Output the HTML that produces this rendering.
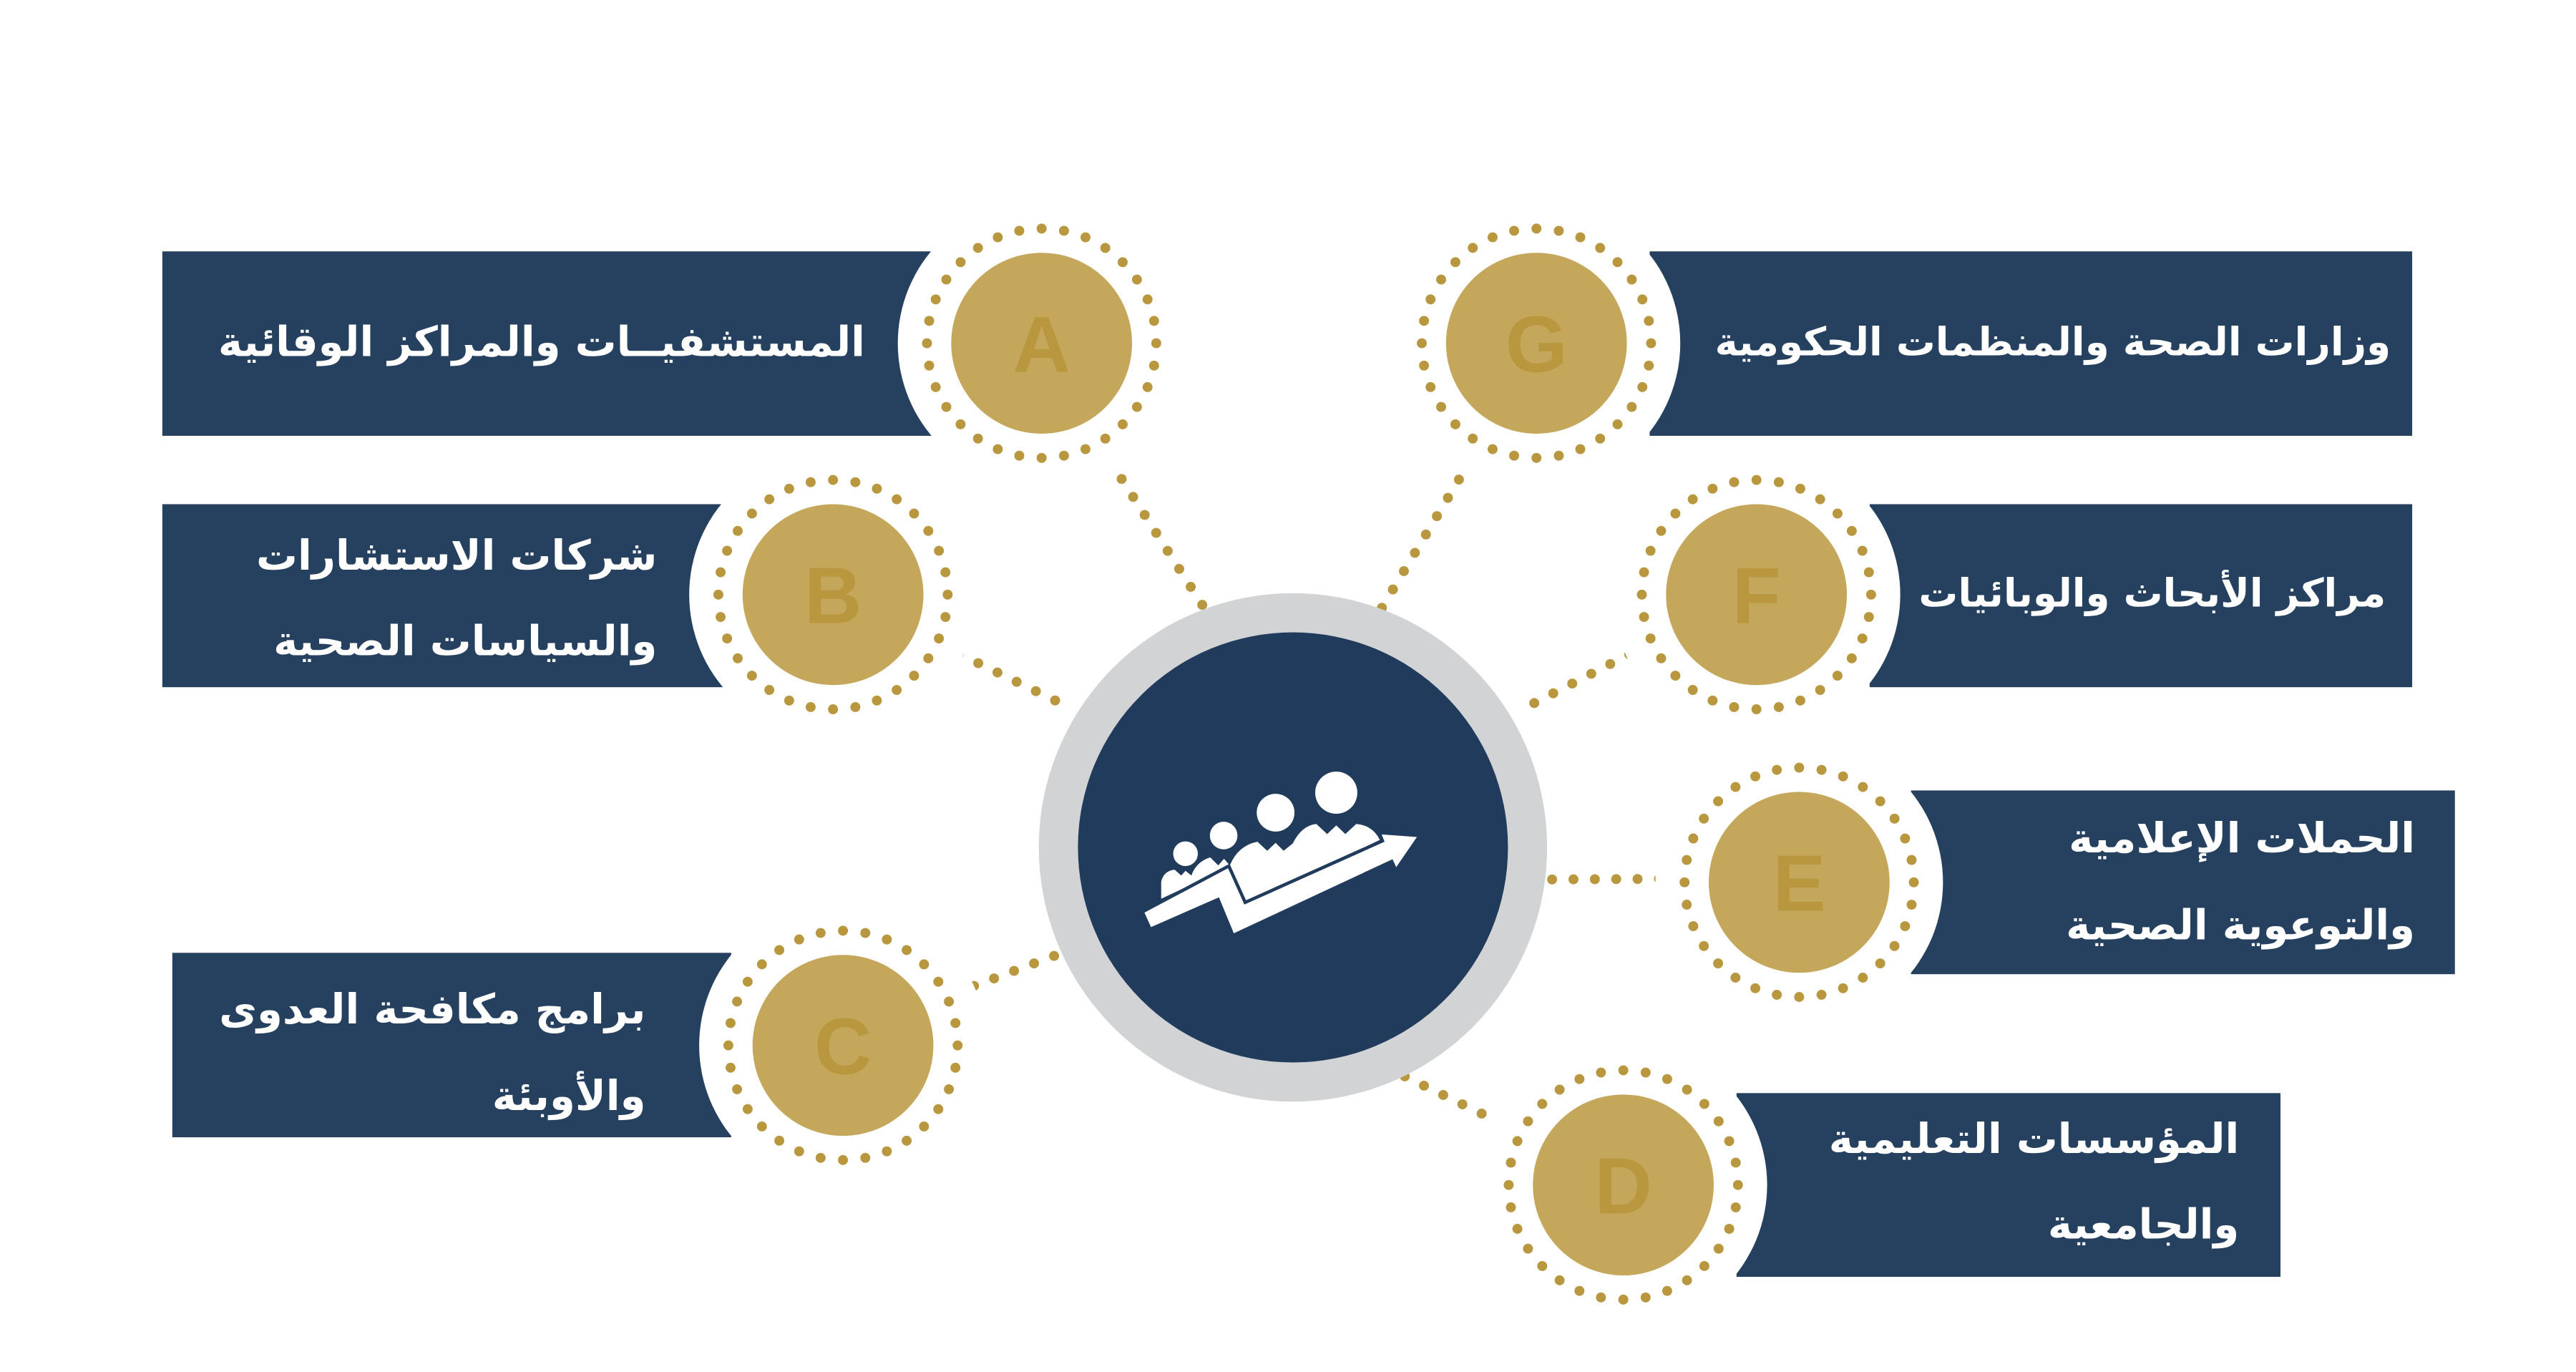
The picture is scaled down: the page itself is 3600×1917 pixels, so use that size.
<!DOCTYPE html>
<html><head><meta charset="utf-8"><style>
html,body{margin:0;padding:0;background:#fff;overflow:hidden}
#o{width:3600px;height:1917px;overflow:hidden;position:relative;background:#fff}
#w{position:absolute;left:0;top:0;width:3600px;height:1917px;transform:scale(0.995);transform-origin:0 0;background:#fff}
svg{position:absolute;left:0;top:0}
.t{position:absolute;color:#fff;font-family:"DejaVu Sans","Liberation Sans",sans-serif;font-weight:bold;font-size:58px;direction:rtl;text-align:right;white-space:nowrap;line-height:1}
.r{font-size:55px}
</style></head><body><div id="o"><div id="w">
<svg width="3600" height="1917" viewBox="0 0 3600 1917">
<g stroke="#b8973f" stroke-width="14" stroke-linecap="round" stroke-dasharray="0 30">
<line x1="1543" y1="622" x2="1705" y2="875"/>
<line x1="1320" y1="905" x2="1495" y2="990"/>
<line x1="1340" y1="1395" x2="1500" y2="1335"/>
<line x1="2080" y1="622" x2="1940" y2="855"/>
<line x1="2315" y1="905" x2="2140" y2="995"/>
<line x1="2360" y1="1234" x2="2175" y2="1235"/>
<line x1="2135" y1="1590" x2="1970" y2="1510"/>
</g>
<g fill="#26405f">
<rect x="228" y="353" width="1080" height="259"/>
<rect x="228" y="708" width="787" height="257"/>
<rect x="242" y="1338" width="785" height="259"/>
<rect x="2317" y="353" width="1071" height="259"/>
<rect x="2626" y="708" width="762" height="257"/>
<rect x="2684" y="1110" width="764" height="258"/>
<rect x="2439" y="1535" width="764" height="258"/>
</g>
<g fill="#fff">
<circle cx="1463" cy="482" r="202"/><circle cx="1170" cy="835" r="202"/><circle cx="1184" cy="1468" r="202"/>
<circle cx="2158" cy="482" r="202"/><circle cx="2467" cy="835" r="202"/><circle cx="2527" cy="1239" r="202"/><circle cx="2280" cy="1664" r="202"/>
</g>
<g fill="none" stroke="#b8973f" stroke-width="14" stroke-linecap="round" stroke-dasharray="0 31.6">
<circle cx="1463" cy="482" r="161"/><circle cx="1170" cy="835" r="161"/><circle cx="1184" cy="1468" r="161"/>
<circle cx="2158" cy="482" r="161"/><circle cx="2467" cy="835" r="161"/><circle cx="2527" cy="1239" r="161"/><circle cx="2280" cy="1664" r="161"/>
</g>
<g fill="#c4a75b">
<circle cx="1463" cy="482" r="127"/><circle cx="1170" cy="835" r="127"/><circle cx="1184" cy="1468" r="127"/>
<circle cx="2158" cy="482" r="127"/><circle cx="2467" cy="835" r="127"/><circle cx="2527" cy="1239" r="127"/><circle cx="2280" cy="1664" r="127"/>
</g>
<g fill="#b8973f" font-family="Liberation Sans, sans-serif" font-weight="bold" font-size="112" text-anchor="middle">
<text x="1463" y="522">A</text><text x="1170" y="875">B</text><text x="1184" y="1508">C</text>
<text x="2158" y="522">G</text><text x="2467" y="875">F</text><text x="2527" y="1279">E</text><text x="2280" y="1704">D</text>
</g>
<g transform="translate(10,7)">
<circle cx="1806" cy="1183" r="357" fill="#d1d3d4"/>
<circle cx="1806" cy="1183" r="302" fill="#213b5c"/>
<g transform="translate(1400,800) scale(0.5102)" fill="#fff">
<circle cx="500" cy="768" r="34"/><circle cx="605" cy="718" r="38"/><circle cx="748" cy="655" r="52"/><circle cx="915" cy="600" r="58"/>
<path d="M433,892 L433,845 Q440,815 470,812 L488,828 L500,815 L516,828 Q530,790 568,778 L590,800 L606,782 L622,800 Q645,745 698,735 L725,760 L748,738 L770,760 L795,740 Q820,690 860,686 L890,714 L915,690 L940,714 L970,686 Q1015,690 1035,730 L663,908 L620,805 Z"/>
<polygon points="387,930 617,808 662,908 1048,735 1040,715 1137,722 1080,805 1070,783 633,987 592,888 405,970" stroke="#213b5c" stroke-width="18" paint-order="stroke"/>
</g>
</g>
</svg>
<div class="t" style="right:2385px;top:451px">المستشفيــات والمراكز الوقائية</div>
<div class="t" style="right:2677px;top:751px">شركات الاستشارات</div>
<div class="t" style="right:2677px;top:871px">والسياسات الصحية</div>
<div class="t" style="right:2693px;top:1388px">برامج مكافحة العدوى</div>
<div class="t" style="right:2693px;top:1510px">والأوبئة</div>
<div class="t r" style="right:242px;top:453px">وزارات الصحة والمنظمات الحكومية</div>
<div class="t r" style="right:249px;top:806px">مراكز الأبحاث والوبائيات</div>
<div class="t" style="right:208px;top:1148px">الحملات الإعلامية</div>
<div class="t" style="right:208px;top:1270px">والتوعوية الصحية</div>
<div class="t" style="right:455px;top:1570px">المؤسسات التعليمية</div>
<div class="t" style="right:455px;top:1690px">والجامعية</div>
</div></div></body></html>
